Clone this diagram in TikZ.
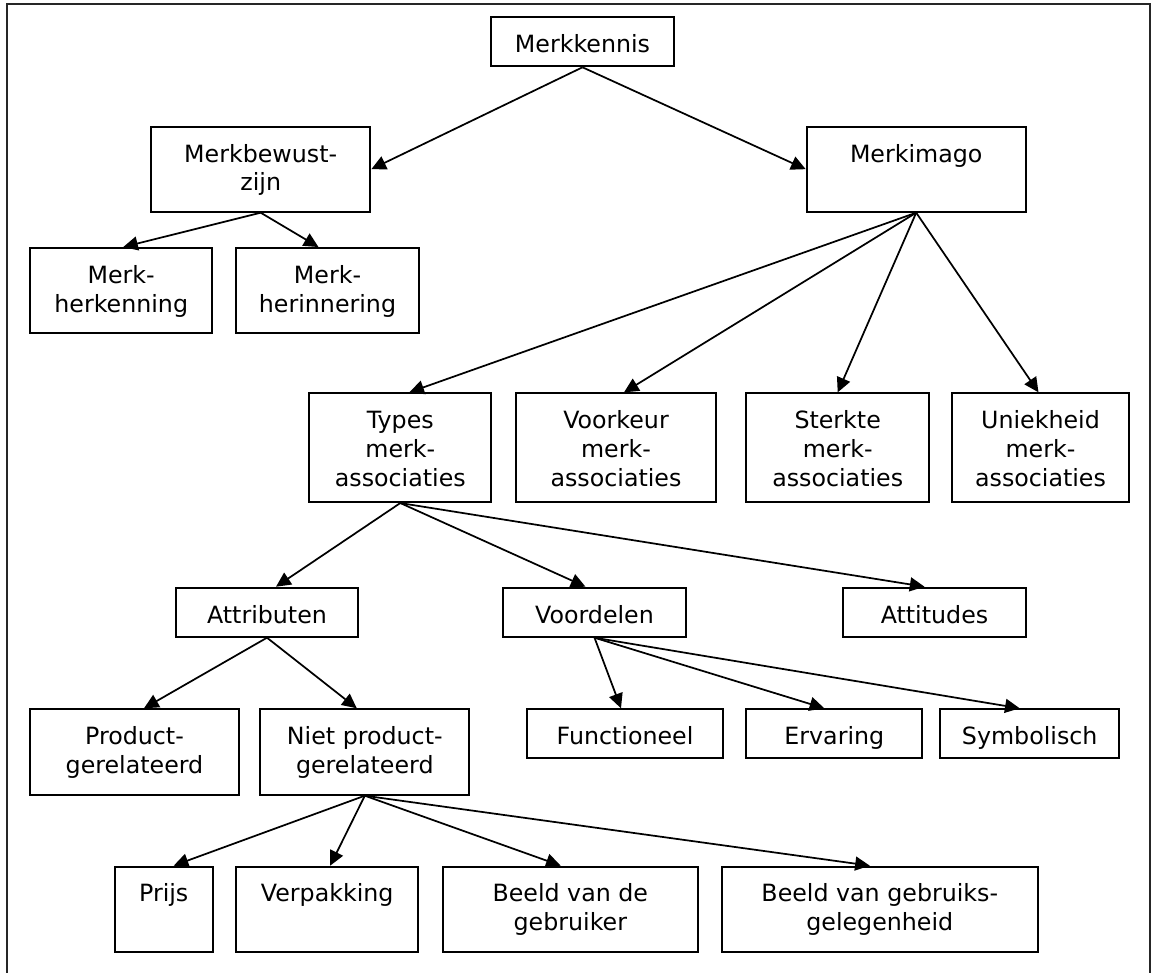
\documentclass[tikz,border=0pt]{standalone}
\usepackage{fontspec}
\setmainfont{DejaVu Sans}
\usetikzlibrary{arrows.meta,calc}
\begin{document}
\begin{tikzpicture}[x=0.75pt,y=-0.75pt,
  bx/.style 2 args={draw, line width=1.5pt, minimum width=#1*0.75pt,
    minimum height=#2*0.75pt, inner sep=0pt},
  txt/.style={anchor=north, inner sep=0pt, align=center,
    font=\fontsize{17.8pt}{21.5pt}\selectfont},
  link/.style={line width=1.3pt, -{Triangle[length=11pt,width=10.5pt]}}]
\useasboundingbox (0,0) rectangle (1152,973);
% outer frame (open at the bottom of the page)
\draw[line width=1.5pt, black!85] (6.7,975) -- (6.7,4) -- (1149.7,4) -- (1149.7,975);

% boxes
\node[bx={183}{49}]      (kennis) at (582.5,41.8)  {};
\node[bx={219.3}{85}]    (bewust) at (260.7,169.2) {};
\node[bx={219}{85}]      (imago)  at (916.2,169.2) {};
\node[bx={182.3}{85.3}]  (herk)   at (121.2,290.7) {};
\node[bx={183}{85.3}]    (herin)  at (327.5,290.7) {};
\node[bx={182}{108.7}]   (types)  at (400.3,447.7) {};
\node[bx={200.6}{108.7}] (voork)  at (616,447.7)   {};
\node[bx={182.7}{108.7}] (sterk)  at (837.7,447.7) {};
\node[bx={176.4}{108.7}] (uniek)  at (1040.5,447.7){};
\node[bx={182.6}{49}]    (attr)   at (267,612.2)   {};
\node[bx={183}{49}]      (voord)  at (594.5,612.2) {};
\node[bx={183}{49}]      (attit)  at (934.5,612.2) {};
\node[bx={209}{85.4}]    (prod)   at (134.5,752)   {};
\node[bx={209}{85.4}]    (niet)   at (364.8,752)   {};
\node[bx={195.4}{49}]    (func)   at (625,733.8)   {};
\node[bx={176}{49}]      (erv)    at (834.3,733.8) {};
\node[bx={178.7}{49}]    (symb)   at (1029.7,733.8){};
\node[bx={98}{85.3}]     (prijs)  at (163.7,909.3) {};
\node[bx={182.3}{85.3}]  (verp)   at (327.2,909.3) {};
\node[bx={255.3}{85.3}]  (beeld1) at (570.3,909.3) {};
\node[bx={316.3}{85.3}]  (beeld2) at (879.8,909.3) {};

% labels, set from the top edge of each box
\node[txt] (kennis-t) at ($(kennis.north)+(0,16)$) {\strut Merkkennis};
\node[txt] (bewust-t) at ($(bewust.north)+(0,16)$) {\strut Merkbewust-\\zijn};
\node[txt] (imago-t)  at ($(imago.north)+(0,16)$)  {\strut Merkimago};
\node[txt] (herk-t)   at ($(herk.north)+(0,16)$)   {\strut Merk-\\herkenning};
\node[txt] (herin-t)  at ($(herin.north)+(0,16)$)  {\strut Merk-\\herinnering};
\node[txt] (types-t)  at ($(types.north)+(0,16)$)  {\strut Types\\merk-\\associaties};
\node[txt] (voork-t)  at ($(voork.north)+(0,16)$)  {\strut Voorkeur\\merk-\\associaties};
\node[txt] (sterk-t)  at ($(sterk.north)+(0,16)$)  {\strut Sterkte\\merk-\\associaties};
\node[txt] (uniek-t)  at ($(uniek.north)+(0,16)$)  {\strut Uniekheid\\merk-\\associaties};
\node[txt] (attr-t)   at ($(attr.north)+(0,16)$)   {\strut Attributen};
\node[txt] (voord-t)  at ($(voord.north)+(0,16)$)  {\strut Voordelen};
\node[txt] (attit-t)  at ($(attit.north)+(0,16)$)  {\strut Attitudes};
\node[txt] (prod-t)   at ($(prod.north)+(0,16)$)   {\strut Product-\\gerelateerd};
\node[txt] (niet-t)   at ($(niet.north)+(0,16)$)   {\strut Niet product-\\gerelateerd};
\node[txt] (func-t)   at ($(func.north)+(0,16)$)   {\strut Functioneel};
\node[txt] (erv-t)    at ($(erv.north)+(0,16)$)    {\strut Ervaring};
\node[txt] (symb-t)   at ($(symb.north)+(0,16)$)   {\strut Symbolisch};
\node[txt] (prijs-t)  at ($(prijs.north)+(0,16)$)  {\strut Prijs};
\node[txt] (verp-t)   at ($(verp.north)+(0,16)$)   {\strut Verpakking};
\node[txt] (beeld1-t) at ($(beeld1.north)+(0,16)$) {\strut Beeld van de\\gebruiker};
\node[txt] (beeld2-t) at ($(beeld2.north)+(0,16)$) {\strut Beeld van gebruiks-\\gelegenheid};

% connectors
\draw[link] (kennis.south) -- (bewust.east);
\draw[link] (kennis.south) -- (imago.west);
\draw[link] (bewust.south) -- ($(herk.north)+(2,0)$);
\draw[link] (bewust.south) -- ($(herin.north)+(-9,0)$);
\draw[link] (imago.south) -- ($(types.north)+(9,0)$);
\draw[link] (imago.south) -- ($(voork.north)+(8,0)$);
\draw[link] (imago.south) -- (sterk.north);
\draw[link] (imago.south) -- ($(uniek.north)+(-2,0)$);
\draw[link] (types.south) -- ($(attr.north)+(9,0)$);
\draw[link] (types.south) -- ($(voord.north)+(-9,0)$);
\draw[link] (types.south) -- ($(attit.north)+(-10,0)$);
\draw[link] (attr.south) -- ($(prod.north)+(9.5,0)$);
\draw[link] (attr.south) -- ($(niet.north)+(-8,0)$);
\draw[link] (voord.south) -- ($(func.north)+(-4,0)$);
\draw[link] (voord.south) -- ($(erv.north)+(-10,0)$);
\draw[link] (voord.south) -- ($(symb.north)+(-10,0)$);
\draw[link] (niet.south) -- ($(prijs.north)+(10,0)$);
\draw[link] (niet.south) -- ($(verp.north)+(3,0)$);
\draw[link] (niet.south) -- ($(beeld1.north)+(-9.6,0)$);
\draw[link] (niet.south) -- ($(beeld2.north)+(-10,0)$);
\end{tikzpicture}
\end{document}
